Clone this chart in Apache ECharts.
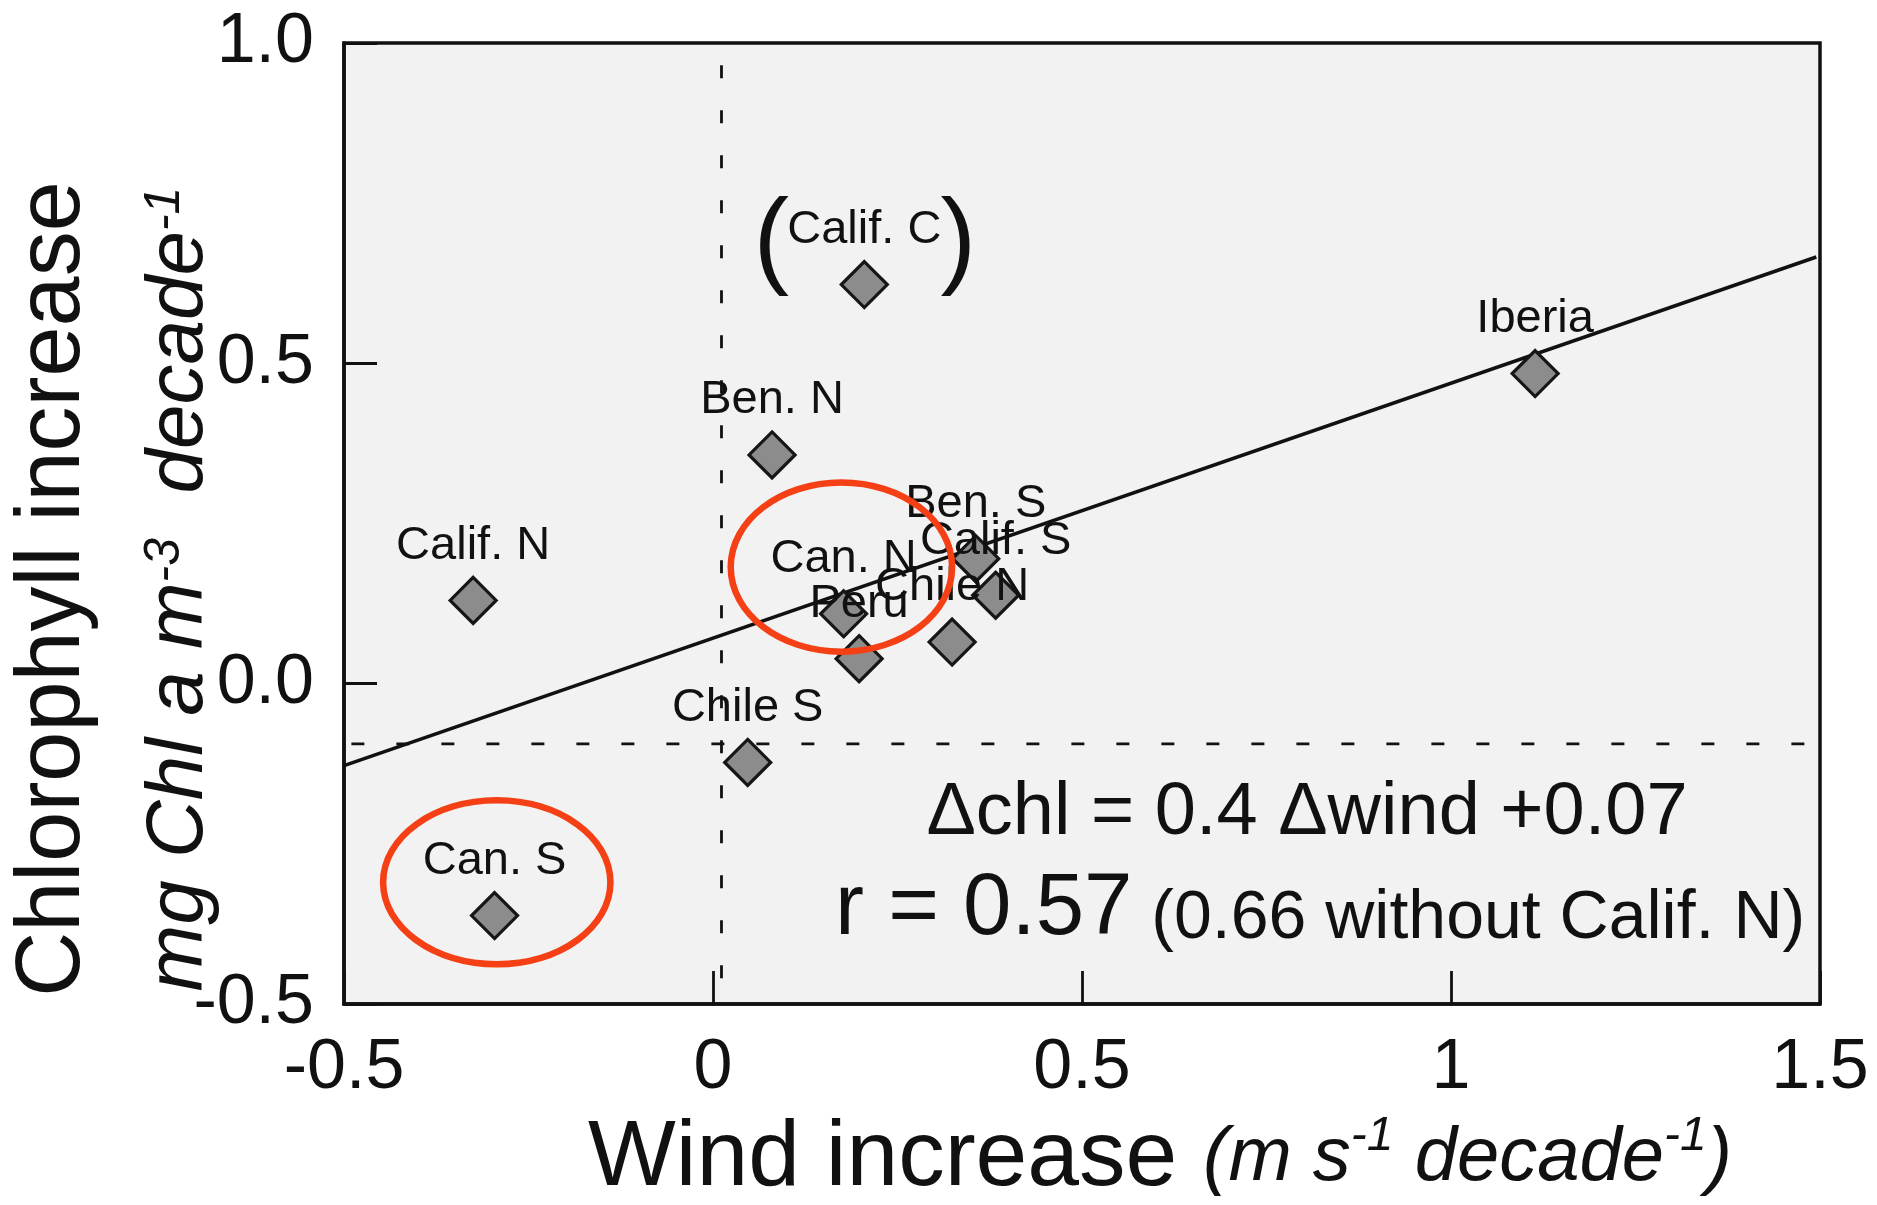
<!DOCTYPE html>
<html><head><meta charset="utf-8">
<script src="https://cdn.jsdelivr.net/npm/echarts@6/dist/echarts.min.js"></script>
<style>html,body{margin:0;padding:0;background:#fff}#c{width:1877px;height:1205px}</style>
</head><body><div id="c"></div>
<script>
// ---- data ----
const regions       = ['Calif. C','Iberia','Ben. N','Calif. N','Can. N','Peru','Chile N','Ben. S','Calif. S','Chile S','Can. S'];
const windIncrease  = [0.205, 1.114, 0.080, -0.325, 0.177, 0.198, 0.324, 0.356, 0.383, 0.047, -0.296];
const chlIncrease   = [0.623, 0.484, 0.357, 0.130, 0.109, 0.039, 0.065, 0.195, 0.138, -0.123, -0.362];
const xTicks        = [-0.5, 0, 0.5, 1, 1.5];
const yTicks        = [-0.5, 0.0, 0.5, 1.0];
// regression line end points
const regLineX      = [-0.5, 1.495];
const regLineY      = [-0.128, 0.666];
// dashed reference lines
const hRefX         = [-0.49, 1.572];
const hRefY         = [-0.094, -0.094];
const vRefX         = [0.0115, 0.0115];
const vRefY         = [-0.46, 1.013];
// red circled regions (centre and radii in data units)
const circled       = ['Can. N', 'Can. S'];
const circleCX      = [0.174, -0.293];
const circleCY      = [0.182, -0.310];
const circleRX      = [0.150, 0.154];
const circleRY      = [0.132, 0.128];
// bracketed region
const bracketed     = ['Calif. C'];
// annotation texts
const eqText        = '\u0394chl = 0.4 \u0394wind +0.07';
const rText         = 'r = 0.57';
const rNote         = '(0.66 without Calif. N)';

const FF = '"Liberation Sans", Arial, Helvetica, sans-serif';
const chart = echarts.init(document.getElementById('c'), null, {renderer:'canvas'});

const pts = regions.map((n,i)=>({name:n, value:[windIncrease[i], chlIncrease[i]]}));
const brk = bracketed.map(n=>{const i=regions.indexOf(n); return [windIncrease[i], chlIncrease[i]];});

const dashStyle = {color:'#111', width:2.8, type:[13,32]};

chart.setOption({
  animation:false,
  backgroundColor:'#fff',
  grid:{left:344, right:57, top:43, bottom:201, show:true, backgroundColor:'#f2f2f2', borderColor:'#111', borderWidth:3.5},
  xAxis:{type:'value', min:xTicks[0], max:xTicks[xTicks.length-1], interval:xTicks[1]-xTicks[0],
    axisLine:{show:true, onZero:false, lineStyle:{color:'#111', width:3.5}},
    axisTick:{show:true, inside:true, length:33, lineStyle:{color:'#111', width:2.8}},
    splitLine:{show:false},
    axisLabel:{fontSize:70, color:'#111', fontFamily:FF, margin:30}},
  yAxis:{type:'value', min:yTicks[0], max:yTicks[yTicks.length-1], interval:yTicks[1]-yTicks[0],
    axisLine:{show:true, onZero:false, lineStyle:{color:'#111', width:3.5}},
    axisTick:{show:true, inside:true, length:33, lineStyle:{color:'#111', width:2.8}},
    splitLine:{show:false},
    axisLabel:{fontSize:70, color:'#111', fontFamily:FF, margin:30, formatter:v=>v.toFixed(1)}},
  series:[
    {type:'line', data:hRefX.map((x,i)=>[x,hRefY[i]]), symbol:'none', clip:false, lineStyle:dashStyle, z:1, silent:true},
    {type:'line', data:vRefX.map((x,i)=>[x,vRefY[i]]), symbol:'none', clip:false, lineStyle:dashStyle, z:1, silent:true},
    {type:'line', data:regLineX.map((x,i)=>[x,regLineY[i]]), symbol:'none', clip:false, lineStyle:{color:'#111', width:3.6}, z:2, silent:true},
    {type:'scatter', data:pts, symbol:'diamond', symbolSize:46, z:3,
      itemStyle:{color:'#8c8c8c', borderColor:'#161616', borderWidth:3.2, opacity:1},
      label:{show:true, position:'top', distance:7, formatter:'{b}', fontSize:47, lineHeight:46, color:'#111', fontFamily:FF},
      labelLayout:{hideOverlap:false}},
    {type:'custom', data:brk, encode:{x:0,y:1}, clip:false, z:4, silent:true,
      renderItem:(p, api)=>{
        const c = api.coord([api.value(0), api.value(1)]);
        const st = t=>({text:t, font:'107px '+FF, fill:'#111', align:'center', verticalAlign:'middle', textAlign:'center', textVerticalAlign:'middle'});
        return {type:'group', children:[
          {type:'text', x:c[0]-93, y:c[1]-40, style:st('(')},
          {type:'text', x:c[0]+94, y:c[1]-40, style:st(')')}
        ]};
      }},
    {type:'custom', data:circled.map((n,i)=>[circleCX[i], circleCY[i], circleRX[i], circleRY[i]]), encode:{x:0,y:1}, clip:false, z:6, silent:true,
      renderItem:(p, api)=>{
        const c = api.coord([api.value(0), api.value(1)]);
        const s = api.size([api.value(2), api.value(3)]);
        return {type:'ellipse', shape:{cx:c[0], cy:c[1], rx:s[0], ry:s[1]}, style:{fill:'none', stroke:'#f53f14', lineWidth:6.5}};
      }}
  ],
  graphic:[
    {type:'text', x:54, y:589, rotation:Math.PI/2, z:10,
      style:{text:'Chlorophyll increase', font:'90px '+FF, fill:'#111', align:'center', verticalAlign:'middle', textAlign:'center', textVerticalAlign:'middle'}},
    {type:'text', x:180, y:589, rotation:Math.PI/2, z:10,
      style:{text:'{m|mg Chl a m}{s|-3}{m|  decade}{s|-1}', fill:'#111', align:'center', verticalAlign:'middle', textAlign:'center', textVerticalAlign:'middle',
        rich:{m:{font:'italic 80px '+FF, fill:'#111', lineHeight:80}, s:{font:'italic 50px '+FF, fill:'#111', lineHeight:50, verticalAlign:'top'}}}},
    {type:'text', x:1160, y:1159, z:10,
      style:{text:'{w|Wind increase }{i|(m s}{s|-1}{i| decade}{s|-1}{i|)}', fill:'#111', align:'center', verticalAlign:'middle', textAlign:'center', textVerticalAlign:'middle',
        rich:{w:{font:'93px '+FF, fill:'#111', lineHeight:93}, i:{font:'italic 76px '+FF, fill:'#111', lineHeight:76}, s:{font:'italic 48px '+FF, fill:'#111', lineHeight:48, verticalAlign:'top'}}}},
    {type:'text', x:1307, y:814, z:10,
      style:{text:eqText, font:'74px '+FF, fill:'#111', align:'center', verticalAlign:'middle', textAlign:'center', textVerticalAlign:'middle'}},
    {type:'text', x:835, y:910, z:10,
      style:{text:'{r|'+rText+'}{s| '+rNote+'}', fill:'#111', align:'left', verticalAlign:'middle', textAlign:'left', textVerticalAlign:'middle',
        rich:{r:{font:'87px '+FF, fill:'#111', lineHeight:87, verticalAlign:'bottom'}, s:{font:'68px '+FF, fill:'#111', lineHeight:68, verticalAlign:'bottom'}}}}
  ]
});
</script></body></html>
